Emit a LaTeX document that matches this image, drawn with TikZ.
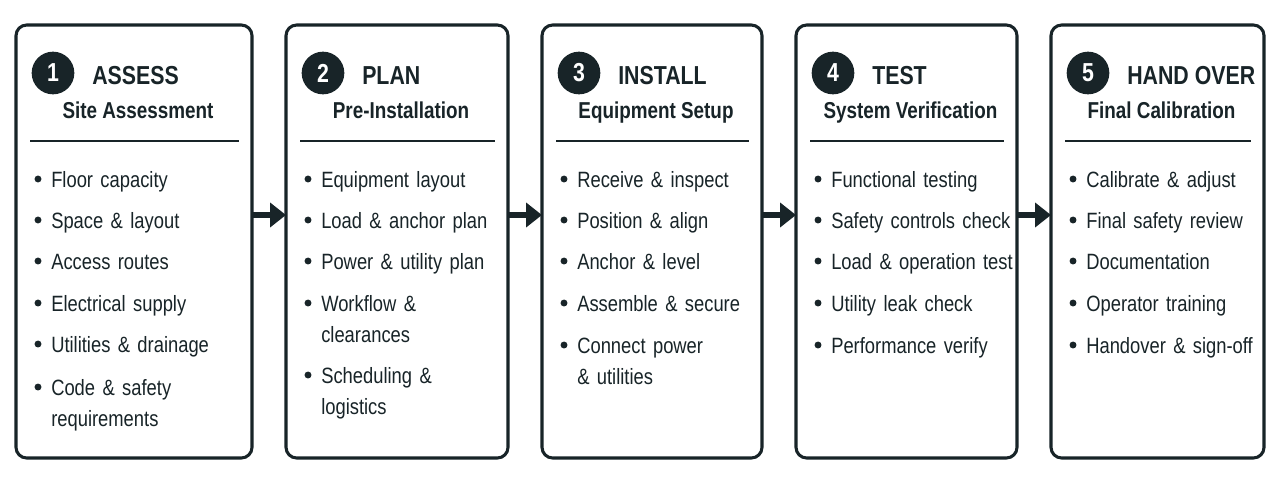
\documentclass[tikz,border=0pt]{standalone}
\usepackage{fontspec}
\setmainfont{Liberation Sans}[FakeStretch=0.83,BoldFeatures={FakeStretch=0.82}]
\usepackage{tikz}
\definecolor{ink}{RGB}{24,36,40}
\usetikzlibrary{fit,arrows.meta}

% one stage: #1 number, #2 left x, #3 right x, #4 title, #5 subtitle, #6 items (baseline/text)
\newcommand{\stagebox}[6]{%
    \node[stage, fit={(#2,25) (#3,458)}] (s#1) {};
    \node[badge] (n#1) at (#2+37,73) {#1};
    \node[title] (t#1) at (#2+76,84) {#4};
    \node[subtitle] (u#1) at ({(#2+#3)/2+4},118) {#5};
    \draw[rule] (#2+14,141) -- (#3-13,141);
    \foreach \y/\txt in {#6} {
        \fill[ink] (#2+22,\y-8) circle (2.6pt);
        \node[item] (i#1-\y) at (#2+35,\y) {\txt};
    }
}

\begin{document}
\begin{tikzpicture}[x=0.75pt,y=-0.75pt,
        stage/.style={draw=ink, line width=2.3pt, rounded corners=8pt, inner sep=0pt, outer sep=0pt},
        badge/.style={circle, fill=ink, text=white, minimum size=32pt, inner sep=0pt,
            font=\bfseries\fontsize{19.5}{22}\selectfont},
        title/.style={anchor=base west, inner sep=0pt, text=ink,
            font=\bfseries\fontsize{19.5}{22}\selectfont},
        subtitle/.style={anchor=base, inner sep=0pt, text=ink,
            font=\bfseries\fontsize{17.25}{20}\selectfont},
        rule/.style={draw=ink, line width=1.4pt},
        item/.style={anchor=base west, inner sep=0pt, text=ink, text width=170pt, align=left,
            font=\fontsize{16.6}{23.25}\selectfont},
        flow/.style={draw=ink, line width=3.8pt, -{Triangle[length=12pt,width=18pt]}}]

        \useasboundingbox[fill=white] (0,0) rectangle (1280,483);

        \stagebox{1}{16}{252}{ASSESS}{Site Assessment}
            {187/Floor capacity, 228/Space \& layout, 269/Access routes,
             311/Electrical supply, 352/Utilities \& drainage, 395/Code \& safety\\requirements}
        \stagebox{2}{286}{508}{PLAN}{Pre-Installation}
            {187/Equipment layout, 228/Load \& anchor plan, 269/Power \& utility plan,
             311/Workflow \&\\clearances, 383/Scheduling \&\\logistics}
        \stagebox{3}{542}{762}{INSTALL}{Equipment Setup}
            {187/Receive \& inspect, 228/Position \& align, 269/Anchor \& level,
             311/Assemble \& secure, 353/Connect power\\\& utilities}
        \stagebox{4}{796}{1017}{TEST}{System Verification}
            {187/Functional testing, 228/Safety controls check, 269/Load \& operation test,
             311/Utility leak check, 353/Performance verify}
        \stagebox{5}{1051}{1264}{HAND OVER}{Final Calibration}
            {187/Calibrate \& adjust, 228/Final safety review, 269/Documentation,
             311/Operator training, 353/Handover \& sign-off}

        \draw[flow] (s1.east |- 0,215) -- (s2.west |- 0,215);
        \draw[flow] (s2.east |- 0,215) -- (s3.west |- 0,215);
        \draw[flow] (s3.east |- 0,215) -- (s4.west |- 0,215);
        \draw[flow] (s4.east |- 0,215) -- (s5.west |- 0,215);
    \end{tikzpicture}
\end{document}
